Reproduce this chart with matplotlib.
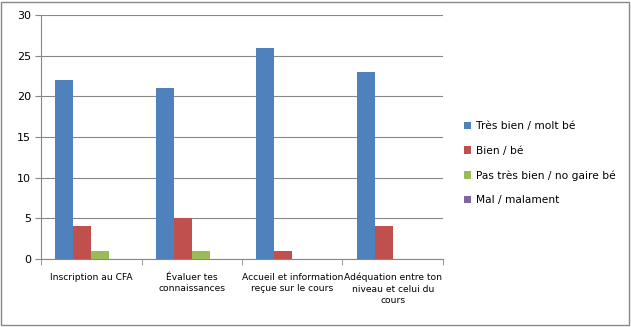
import numpy as np
import matplotlib
matplotlib.use("Agg")
import matplotlib.pyplot as plt
from matplotlib.patches import Rectangle

# =============================================================================
# Data
# =============================================================================
categories = ["Inscription au CFA",
              "Évaluer tes\nconnaissances",
              "Accueil et information\nreçue sur le cours",
              "Adéquation entre ton\nniveau et celui du\ncours"]
series_names = ["Très bien / molt bé", "Bien / bé",
                "Pas très bien / no gaire bé", "Mal / malament"]
tres_bien = [22, 21, 26, 23]
bien = [4, 5, 1, 4]
pas_tres_bien = [1, 1, 0, 0]
mal = [0, 0, 0, 0]

colors = ['#4F81BD', '#C0504D', '#9BBB59', '#8064A2']

# =============================================================================
# Graf
# =============================================================================
plt.rcParams['font.family'] = ['DejaVu Sans']
fig = plt.figure(figsize=(6.31, 3.27), dpi=100)
ax = fig.add_axes([0.065, 0.208, 0.637, 0.746])

x = np.arange(len(categories))
width = 0.18
all_series = [tres_bien, bien, pas_tres_bien, mal]
for i, (vals, name) in enumerate(zip(all_series, series_names)):
    ax.bar(x + (i - 1.5) * width, vals, width, color=colors[i], label=name, zorder=3)

ax.set_xlim(-0.5, len(categories) - 0.5)
ax.set_ylim(0, 30)
ax.set_yticks([0, 5, 10, 15, 20, 25, 30])
ax.yaxis.grid(True, color='#888888', linewidth=0.8, zorder=0)

ax.set_xticks(x)
ax.set_xticklabels(categories, fontsize=6.6, linespacing=1.35)
ax.tick_params(axis='x', length=0, pad=10)
ax.set_xticks(np.arange(-0.5, len(categories)), minor=True)
ax.tick_params(axis='x', which='minor', length=4, color='#888888')
ax.tick_params(axis='y', labelsize=8, length=4, color='#888888', pad=3)

for s in ['top', 'right']:
    ax.spines[s].set_visible(False)
ax.spines['left'].set_color('#888888')
ax.spines['bottom'].set_color('#888888')

ax.legend(loc='center left', bbox_to_anchor=(1.028, 0.393), frameon=False,
          fontsize=7.7, handlelength=0.7, handleheight=0.7, handletextpad=0.4,
          labelspacing=1.35)

fig.patches.append(Rectangle((0.002, 0.005), 0.995, 0.99, transform=fig.transFigure,
                             fill=False, edgecolor='#888888', linewidth=1))

fig.savefig('out.png', dpi=100)
